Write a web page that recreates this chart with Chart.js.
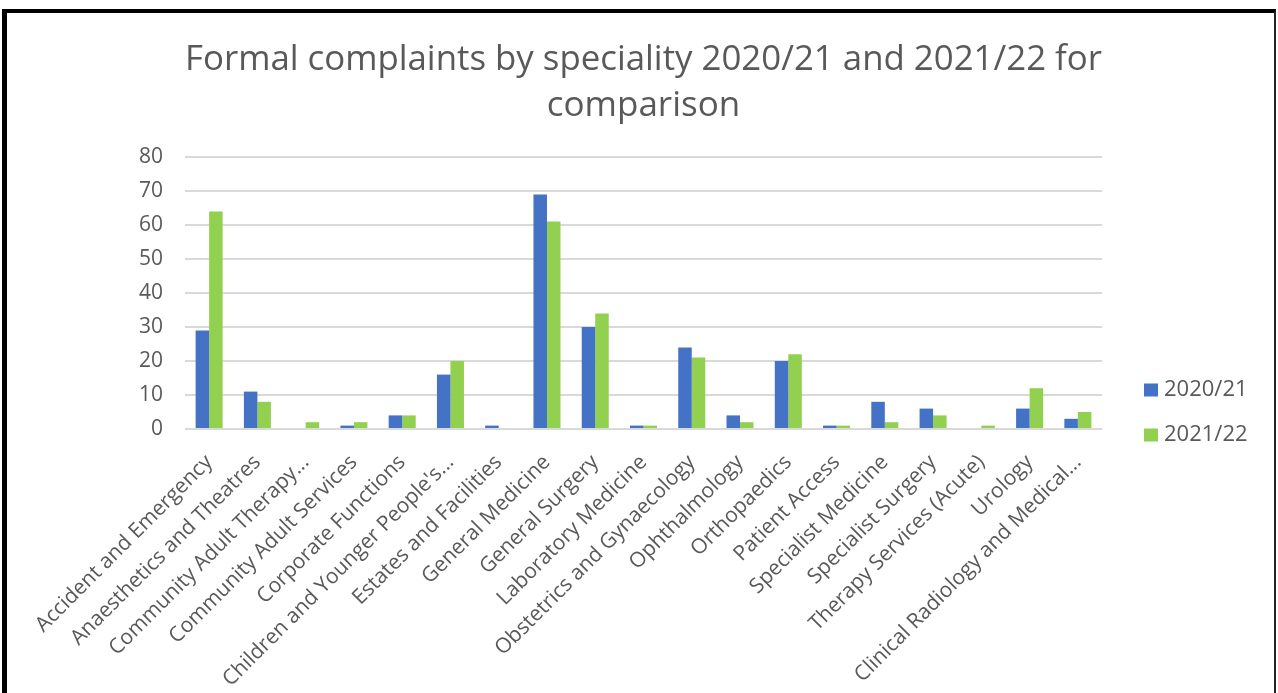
<!DOCTYPE html>
<html>
<head>
<meta charset="utf-8">
<title>Formal complaints by speciality</title>
<script src="https://cdn.jsdelivr.net/npm/chart.js@4.4.1/dist/chart.umd.min.js"></script>
<style>
  html, body { margin: 0; padding: 0; background: #ffffff; overflow: hidden; }
  #wrap { position: absolute; left: 0; top: 0; width: 1278px; height: 693px; }
  #chart { position: absolute; left: 0; top: 0; }
  #frame {
    position: absolute; left: 2px; top: 9px; width: 1267px; height: 700px;
    border-top: 4px solid #000; border-left: 5px solid #000; border-right: 2px solid #222;
    pointer-events: none;
  }
</style>
</head>
<body>
<div id="wrap">
  <canvas id="chart" width="1278" height="693"></canvas>
  <div id="frame"></div>
</div>
<script>
// Specialities (long names shortened the way the axis shows them)
const categories = [
  'Accident and Emergency',
  'Anaesthetics and Theatres',
  'Community Adult Therapy...',
  'Community Adult Services',
  'Corporate Functions',
  "Children and Younger People's...",
  'Estates and Facilities',
  'General Medicine',
  'General Surgery',
  'Laboratory Medicine',
  'Obstetrics and Gynaecology',
  'Ophthalmology',
  'Orthopaedics',
  'Patient Access',
  'Specialist Medicine',
  'Specialist Surgery',
  'Therapy Services (Acute)',
  'Urology',
  'Clinical Radiology and Medical...'
];

const seriesNames = ['2020/21', '2021/22'];

// Formal complaints per speciality
const complaints2020 = [29, 11, 0, 1, 4, 16, 1, 69, 30, 1, 24, 4, 20, 1, 8, 6, 0, 6, 3];
const complaints2021 = [64, 8, 2, 2, 4, 20, 0, 61, 34, 1, 21, 2, 22, 1, 2, 4, 1, 12, 5];

// Value axis
const yTicks = [0, 10, 20, 30, 40, 50, 60, 70, 80];

const titleLines = ['Formal complaints by speciality 2020/21 and 2021/22 for', 'comparison'];

const BLUE = '#4472C4';
const GREEN = '#92D050';
const TEXT = '#595959';
const GRID = '#d9d9d9';

// Legend drawn as a simple vertical list to the right of the plot
const sideLegend = {
  id: 'sideLegend',
  afterDraw(chart) {
    const ctx = chart.ctx;
    const x0 = chart.chartArea.right + 42;
    const rows = [390, 435];
    ctx.save();
    ctx.font = '22px "Open Sans"';
    ctx.textBaseline = 'middle';
    ctx.textAlign = 'left';
    chart.data.datasets.forEach((ds, i) => {
      const y = rows[i];
      ctx.fillStyle = ds.backgroundColor;
      ctx.fillRect(x0, y - 6.5, 14, 13);
      ctx.fillStyle = TEXT;
      ctx.fillText(ds.label, x0 + 20, y);
    });
    ctx.restore();
  }
};

new Chart(document.getElementById('chart'), {
  type: 'bar',
  data: {
    labels: categories,
    datasets: [
      { label: seriesNames[0], data: complaints2020, backgroundColor: BLUE, borderWidth: 0 },
      { label: seriesNames[1], data: complaints2021, backgroundColor: GREEN, borderWidth: 0 }
    ]
  },
  options: {
    responsive: false,
    animation: false,
    devicePixelRatio: 1,
    layout: { padding: { left: 0, right: 176, top: 0, bottom: 0 } },
    datasets: { bar: { categoryPercentage: 0.56, barPercentage: 1.0 } },
    plugins: {
      legend: { display: false },
      tooltip: { enabled: false },
      title: {
        display: true,
        fullSize: false,
        text: titleLines,
        color: TEXT,
        font: { family: '"Open Sans"', size: 35, weight: 'normal', lineHeight: 1.314 },
        padding: { top: 37, bottom: 28 }
      }
    },
    scales: {
      x: {
        grid: { display: false },
        border: { display: false },
        ticks: {
          autoSkip: false,
          maxRotation: 45,
          minRotation: 45,
          padding: 13,
          color: TEXT,
          font: { family: '"Open Sans"', size: 21 }
        },
        afterFit(scale) { scale.height = 693 - 429; }
      },
      y: {
        min: yTicks[0],
        max: yTicks[yTicks.length - 1],
        afterBuildTicks(scale) { scale.ticks = yTicks.map(v => ({ value: v })); },
        grid: { color: GRID, lineWidth: 2, drawTicks: false },
        border: { display: false },
        ticks: {
          padding: 22,
          color: TEXT,
          font: { family: '"Open Sans"', size: 21 }
        },
        afterFit(scale) { scale.width = 185; }
      }
    }
  },
  plugins: [sideLegend]
});
</script>
</body>
</html>
